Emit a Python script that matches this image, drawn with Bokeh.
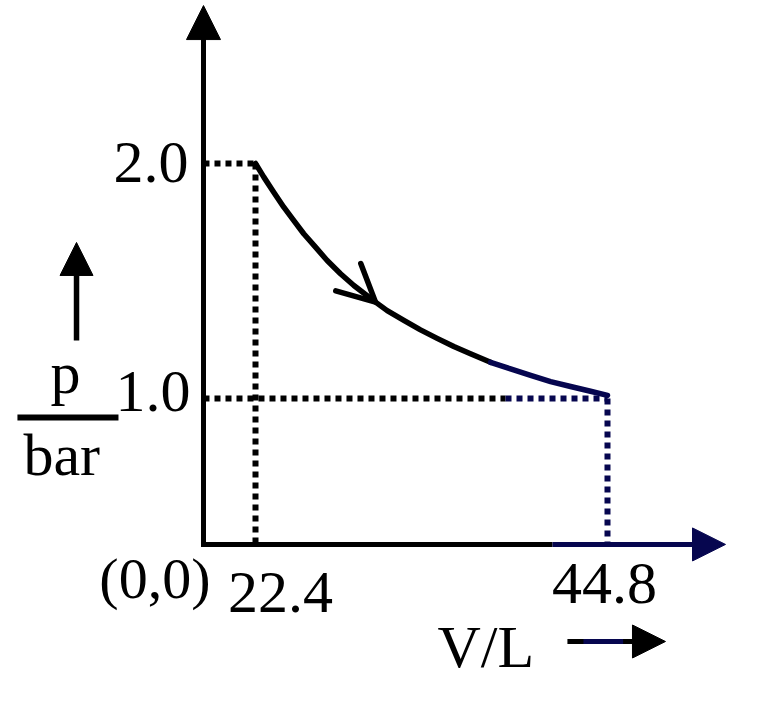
from bokeh.plotting import figure
from bokeh.models import Range1d, Label, Arrow, NormalHead, OpenHead
from bokeh.embed import file_html
from bokeh.resources import INLINE

# p-V diagram, isothermal expansion (schematic axes, broken at the origin)
V_STATES = [22.4, 44.8]
P_STATES = [2.0, 1.0]
V_LABELS = ["22.4", "44.8"]
P_LABELS = ["2.0", "1.0"]

# curve
V_CURVE = [22.4, 22.93, 23.56, 24.20, 24.84, 25.47, 26.22, 26.96, 27.81, 28.66,
           30.04, 30.78, 31.84, 32.90, 33.96, 35.02, 36.08, 37.36, 38.63, 39.91,
           41.18, 42.45, 43.72, 44.8]
P_CURVE = [2.0, 1.942, 1.878, 1.814, 1.757, 1.701, 1.644, 1.587, 1.531, 1.481,
           1.410, 1.374, 1.332, 1.292, 1.256, 1.221, 1.190, 1.154, 1.126, 1.098,
           1.072, 1.051, 1.031, 1.013]
SPLIT = 17  # curve turns dark blue from here on
ARROW_AT = 10

NAVY = "#06064f"
FONT = "Liberation Serif"
LW = 5.5
DOT_W = 6
DOTS = "6 5"

# where the drawn axes cross (the picture is not to scale near the origin)
V0, P0 = 19.09, 0.379
V_AXIS_END, P_AXIS_END = 52.31, 2.672

p = figure(width=741, height=691, output_backend="svg", toolbar_location=None,
           x_range=Range1d(6.172, 53.328), y_range=Range1d(-0.2468, 2.6936),
           x_axis_type=None, y_axis_type=None, min_border=0)
p.grid.visible = False
p.outline_line_color = None
p.background_fill_color = "white"

# dotted guide lines
p.line([V0, V_STATES[0]], [P_STATES[0], P_STATES[0]], line_width=DOT_W,
       line_dash=DOTS, color="black")
p.line([V_STATES[0], V_STATES[0]], [P_STATES[0], P0], line_width=DOT_W,
       line_dash=DOTS, color="black")
p.line([V0, 38.31], [P_STATES[1], P_STATES[1]], line_width=DOT_W,
       line_dash=DOTS, color="black")
p.line([38.31, V_STATES[1]], [P_STATES[1], P_STATES[1]], line_width=DOT_W,
       line_dash=DOTS, color=NAVY)
p.line([V_STATES[1], V_STATES[1]], [P_STATES[1], P0], line_width=DOT_W,
       line_dash=DOTS, color=NAVY)

# axes
p.line([V0, V0, 41.3], [P_AXIS_END - 0.1, P0, P0], line_width=5,
       color="black", line_join="miter")
p.add_layout(Arrow(end=NormalHead(size=34, fill_color="black", line_color="black"),
                   x_start=V0, y_start=P0, x_end=V0, y_end=P_AXIS_END,
                   line_width=5, line_color="black"))
p.add_layout(Arrow(end=NormalHead(size=33, fill_color=NAVY, line_color=NAVY),
                   x_start=41.3, y_start=P0, x_end=V_AXIS_END, y_end=P0,
                   line_width=5, line_color=NAVY))

# the curve
p.line(V_CURVE[:SPLIT + 1], P_CURVE[:SPLIT + 1], line_width=LW, color="black",
       line_join="round", line_cap="round")
p.line(V_CURVE[SPLIT:], P_CURVE[SPLIT:], line_width=LW, color=NAVY,
       line_join="round", line_cap="round")
p.add_layout(Arrow(end=OpenHead(size=37, line_width=LW, line_color="black",
                                line_cap="round"),
                   x_start=V_CURVE[ARROW_AT - 4], y_start=P_CURVE[ARROW_AT - 4],
                   x_end=V_CURVE[ARROW_AT], y_end=P_CURVE[ARROW_AT],
                   line_alpha=0))


def text(x, y, s, dx, dy, align, size="60px"):
    p.add_layout(Label(x=x, y=y, text=s, x_offset=dx, y_offset=dy,
                       text_align=align, text_baseline="alphabetic",
                       text_color="black", text_font=FONT, text_font_size=size))


# tick labels
text(V0, P_STATES[0], P_LABELS[0], -15, 1, "right")
text(V0, P_STATES[1], P_LABELS[1], -13, 7, "right")
text(V_STATES[0], P0, V_LABELS[0], 25, -48, "center")
text(V_STATES[1], P0, V_LABELS[1], -3, -39, "center")
text(V0, P0, "(0,0)", 7, -34, "right", "58px")

# axis titles
text(V_STATES[1], P0, "V/L", -170, -103, "left")
p.line([42.25, 46.0], [-0.034, -0.034], line_width=5, color="black")
p.line([43.27, 45.82], [-0.034, -0.034], line_width=5, color=NAVY)
p.add_layout(Arrow(end=NormalHead(size=33, fill_color="black", line_color="black"),
                   x_start=45.8, y_start=-0.034, x_end=48.49, y_end=-0.034,
                   line_width=5, line_color="black"))

text(V0, P_STATES[1], "p", -153, 25, "left")
text(V0, P_STATES[1], "bar", -180, -57, "left")
p.line([7.25, 13.68], [0.919, 0.919], line_width=6, color="black")
p.add_layout(Arrow(end=NormalHead(size=33, fill_color="black", line_color="black"),
                   x_start=11.01, y_start=1.247, x_end=11.01, y_end=1.664,
                   line_width=5.5, line_color="black"))

open("out.html", "w").write(file_html(p, INLINE))
